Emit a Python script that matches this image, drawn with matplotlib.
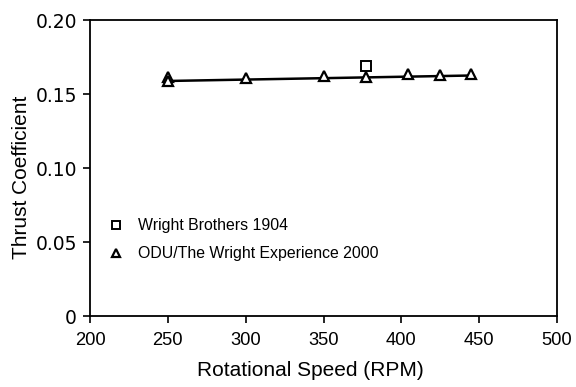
import matplotlib
matplotlib.use("Agg")
import matplotlib.pyplot as plt

plt.rcParams["font.family"] = ["Liberation Sans", "DejaVu Sans"]

# data
wb_rpm = [377]
wb_ct = [0.1687]

odu_rpm = [250, 250, 300, 350, 377, 404, 425, 445]
odu_ct = [0.1615, 0.1588, 0.1608, 0.1620, 0.1618, 0.1633, 0.1628, 0.1632]

fit_rpm = [250, 445]
fit_ct = [0.1588, 0.1625]

x_ticks = [200, 250, 300, 350, 400, 450, 500]
y_ticks = [0, 0.05, 0.10, 0.15, 0.20]
y_ticklabels = ["0", "0.05", "0.10", "0.15", "0.20"]

fig = plt.figure(figsize=(5.76, 3.87), dpi=100)
ax = fig.add_axes([90 / 576, 1 - 316 / 387, 467 / 576, 296 / 387])

ax.plot(fit_rpm, fit_ct, color="black", lw=1.8, zorder=2)
ax.plot(wb_rpm, wb_ct, ls="none", marker="s", ms=6.5, mfc="white", mec="black",
        mew=1.4, label="Wright Brothers 1904", zorder=3)
ax.plot(odu_rpm, odu_ct, ls="none", marker="^", ms=7.5, mfc="white", mec="black",
        mew=1.6, label="ODU/The Wright Experience 2000", zorder=3)

ax.set_xlim(200, 500)
ax.set_ylim(0, 0.20)
ax.set_xticks(x_ticks)
ax.set_yticks(y_ticks)
ax.set_yticklabels(y_ticklabels, family=["DejaVu Sans"], fontsize=13.5)
ax.tick_params(axis="x", direction="out", length=5, width=1.2, labelsize=13.2, pad=6.5)
ax.tick_params(axis="y", direction="out", length=5, width=1.2, pad=4.5)
for s in ax.spines.values():
    s.set_linewidth(1.3)

ax.set_xlabel("Rotational Speed (RPM)", fontsize=15)
ax.set_ylabel("Thrust Coefficient", fontsize=15)
ax.xaxis.set_label_coords(0.471, -0.152)
ax.yaxis.set_label_coords(-0.126, 0.468)

ax.legend(loc="center left", bbox_to_anchor=(0.0, 0.258), frameon=False,
          fontsize=11.4, handletextpad=0.6, labelspacing=0.82, markerscale=0.8,
          handlelength=1.5)

fig.savefig("out.png", dpi=100)
